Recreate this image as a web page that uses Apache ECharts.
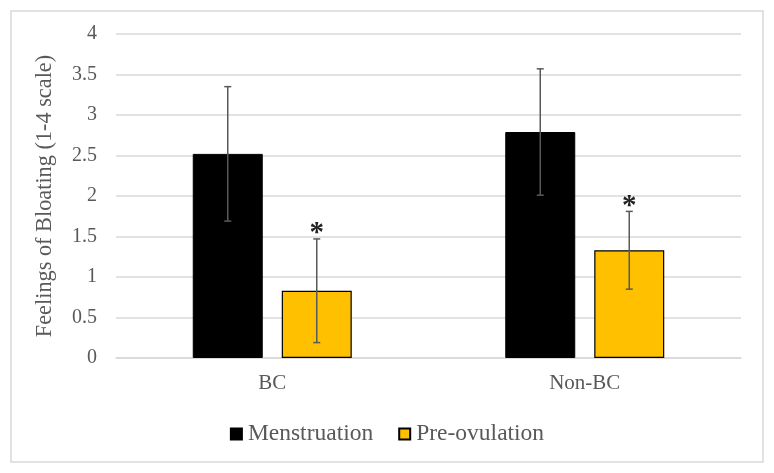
<!DOCTYPE html>
<html>
<head>
<meta charset="utf-8">
<script src="https://cdn.jsdelivr.net/npm/echarts@6/dist/echarts.min.js"></script>
<style>
  html, body { margin: 0; padding: 0; background: #fff; }
  #chart { width: 774px; height: 473px; }
</style>
</head>
<body>
<div id="chart"></div>
<script>
// ---- data ----
var categories = ['BC', 'Non-BC'];
var seriesNames = ['Menstruation', 'Pre-ovulation'];
var menstruation = [2.52, 2.79];
var menstruationErr = [0.83, 0.78];
var preOvulation = [0.83, 1.33];
var preOvulationErr = [0.64, 0.48];
var preOvulationMarks = ['*', '*'];
var yTicks = [0, 0.5, 1, 1.5, 2, 2.5, 3, 3.5, 4];

// ---- styling ----
var FONT = '"Liberation Serif", "Times New Roman", serif';
var TEXT = '#595959';
var GRID = '#d9d9d9';
var BAR_W = 70;
var GAP_PX = 19;
var OFFSET = (BAR_W + GAP_PX) / 2;

function errSeries(values, errs, marks, dir) {
  return {
    type: 'custom',
    silent: true,
    z: 10,
    data: values.map(function (v, i) { return [i, v, errs[i]]; }),
    renderItem: function (params, api) {
      var idx = api.value(0), v = api.value(1), e = api.value(2);
      var x = api.coord([idx, 0])[0] + dir * OFFSET;
      var yTop = api.coord([idx, v + e])[1];
      var yBot = api.coord([idx, v - e])[1];
      var cap = 3.5;
      var style = { stroke: TEXT, lineWidth: 1.5 };
      var children = [
        { type: 'line', shape: { x1: x, y1: yTop, x2: x, y2: yBot }, style: style },
        { type: 'line', shape: { x1: x - cap, y1: yTop, x2: x + cap, y2: yTop }, style: style },
        { type: 'line', shape: { x1: x - cap, y1: yBot, x2: x + cap, y2: yBot }, style: style }
      ];
      if (marks && marks[idx]) {
        children.push({
          type: 'text',
          style: {
            text: marks[idx], x: x, y: yTop - 5,
            textAlign: 'center', textVerticalAlign: 'middle',
            font: 'bold 29px ' + FONT, fill: '#222'
          }
        });
      }
      return { type: 'group', children: children };
    }
  };
}

var chart = echarts.init(document.getElementById('chart'), null, { renderer: 'canvas' });
chart.setOption({
  backgroundColor: '#fff',
  animation: false,
  textStyle: { fontFamily: FONT, color: TEXT },
  graphic: [{
    type: 'rect', silent: true,
    shape: { x: 11, y: 11, width: 752, height: 451 },
    style: { fill: 'none', stroke: GRID, lineWidth: 1.5 }
  }],
  grid: { left: 116, right: 33, top: 34, bottom: 115 },
  legend: {
    data: seriesNames,
    left: 'center',
    top: 417,
    icon: 'rect',
    itemWidth: 11,
    itemHeight: 11,
    itemGap: 25,
    textStyle: { fontFamily: FONT, fontSize: 23.5, color: TEXT, padding: [0, 0, 0, 1] }
  },
  xAxis: {
    type: 'category',
    data: categories,
    axisLine: { lineStyle: { color: GRID, width: 1.5 } },
    axisTick: { show: false },
    axisLabel: { fontFamily: FONT, fontSize: 21, color: TEXT, margin: 15 }
  },
  yAxis: {
    type: 'value',
    min: yTicks[0],
    max: yTicks[yTicks.length - 1],
    interval: yTicks[1] - yTicks[0],
    name: 'Feelings of Bloating (1-4 scale)',
    nameLocation: 'middle',
    nameRotate: 90,
    nameGap: 60,
    nameTextStyle: { fontFamily: FONT, fontSize: 22.3, color: TEXT },
    axisLine: { show: false },
    axisTick: { show: false },
    axisLabel: { fontFamily: FONT, fontSize: 20, color: TEXT, margin: 19 },
    splitLine: { lineStyle: { color: GRID, width: 1.5 } }
  },
  series: [
    {
      name: seriesNames[0], type: 'bar', data: menstruation,
      barWidth: BAR_W, barGap: (GAP_PX / BAR_W * 100) + '%',
      itemStyle: { color: '#000000', borderColor: '#000', borderWidth: 1 }
    },
    {
      name: seriesNames[1], type: 'bar', data: preOvulation,
      barWidth: BAR_W,
      itemStyle: { color: '#FFC000', borderColor: '#000', borderWidth: 1.2 }
    },
    errSeries(menstruation, menstruationErr, null, -1),
    errSeries(preOvulation, preOvulationErr, preOvulationMarks, 1)
  ]
});
</script>
</body>
</html>
